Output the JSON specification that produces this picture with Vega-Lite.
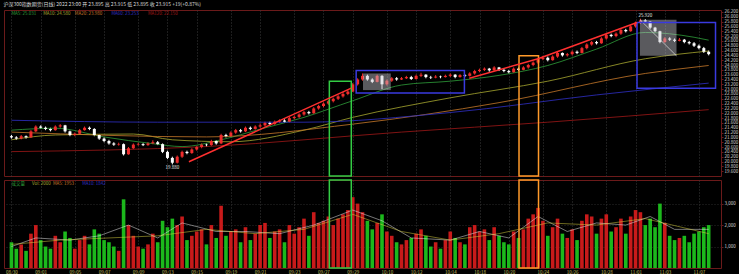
{
"$schema": "https://vega.github.io/schema/vega-lite/v6.json",
"background": "#000000",
"padding": {"left": 3, "top": 2, "right": 0, "bottom": 0},
"spacing": 0,
"config": {"font": "Noto Sans CJK SC", "view": {"stroke": "#6b1a1a", "strokeWidth": 1}, "concat": {"spacing": 0}, "axis": {"labelOverlap": false, "labelBound": false}},
"title": {"text": "沪深300指数期货(日线)   2022 23:00   开 23.895   高 23.915   低 23.895   收 23.915   +19(+0.87%)", "fontSize": 5, "color": "#dddddd", "anchor": "start", "offset": 1, "fontWeight": "normal", "baseline": "top"},
"datasets": {
"k": [
{"i":0,"o":21.05,"c":21.00,"h":21.10,"l":20.95,"v":1200},
{"i":1,"o":21.00,"c":20.95,"h":21.05,"l":20.90,"v":900},
{"i":2,"o":20.95,"c":21.05,"h":21.10,"l":20.92,"v":1100},
{"i":3,"o":21.05,"c":21.00,"h":21.08,"l":20.95,"v":800},
{"i":4,"o":21.00,"c":21.25,"h":21.30,"l":20.98,"v":1600},
{"i":5,"o":21.25,"c":21.45,"h":21.50,"l":21.22,"v":2000},
{"i":6,"o":21.45,"c":21.40,"h":21.50,"l":21.35,"v":1300},
{"i":7,"o":21.40,"c":21.35,"h":21.45,"l":21.30,"v":1000},
{"i":8,"o":21.35,"c":21.30,"h":21.40,"l":21.25,"v":900},
{"i":9,"o":21.30,"c":21.45,"h":21.50,"l":21.28,"v":1500},
{"i":10,"o":21.45,"c":21.50,"h":21.55,"l":21.40,"v":1200},
{"i":11,"o":21.50,"c":21.25,"h":21.52,"l":21.20,"v":1700},
{"i":12,"o":21.25,"c":21.10,"h":21.28,"l":21.05,"v":1400},
{"i":13,"o":21.10,"c":21.15,"h":21.20,"l":21.05,"v":900},
{"i":14,"o":21.15,"c":21.30,"h":21.35,"l":21.12,"v":1300},
{"i":15,"o":21.30,"c":21.40,"h":21.45,"l":21.28,"v":1500},
{"i":16,"o":21.40,"c":21.35,"h":21.45,"l":21.30,"v":1100},
{"i":17,"o":21.35,"c":21.10,"h":21.38,"l":21.05,"v":1800},
{"i":18,"o":21.10,"c":20.95,"h":21.12,"l":20.90,"v":1600},
{"i":19,"o":20.95,"c":20.85,"h":21.00,"l":20.80,"v":1300},
{"i":20,"o":20.85,"c":20.75,"h":20.90,"l":20.70,"v":1200},
{"i":21,"o":20.75,"c":20.70,"h":20.80,"l":20.65,"v":1000},
{"i":22,"o":20.70,"c":20.72,"h":20.78,"l":20.66,"v":800},
{"i":23,"o":20.72,"c":20.30,"h":20.75,"l":20.25,"v":3200},
{"i":24,"o":20.30,"c":20.55,"h":20.60,"l":20.28,"v":2000},
{"i":25,"o":20.55,"c":20.70,"h":20.75,"l":20.52,"v":1500},
{"i":26,"o":20.70,"c":20.72,"h":20.78,"l":20.66,"v":1000},
{"i":27,"o":20.72,"c":20.68,"h":20.76,"l":20.64,"v":900},
{"i":28,"o":20.68,"c":20.75,"h":20.80,"l":20.65,"v":1100},
{"i":29,"o":20.75,"c":20.80,"h":20.88,"l":20.72,"v":1600},
{"i":30,"o":20.80,"c":20.72,"h":20.85,"l":20.68,"v":1200},
{"i":31,"o":20.72,"c":20.40,"h":20.75,"l":20.35,"v":2200},
{"i":32,"o":20.40,"c":20.15,"h":20.45,"l":20.10,"v":1900},
{"i":33,"o":20.15,"c":19.95,"h":20.20,"l":19.88,"v":2300},
{"i":34,"o":19.95,"c":20.20,"h":20.25,"l":19.92,"v":2000},
{"i":35,"o":20.20,"c":20.40,"h":20.45,"l":20.15,"v":2400},
{"i":36,"o":20.40,"c":20.35,"h":20.45,"l":20.30,"v":1300},
{"i":37,"o":20.35,"c":20.50,"h":20.55,"l":20.32,"v":1500},
{"i":38,"o":20.50,"c":20.60,"h":20.65,"l":20.45,"v":1700},
{"i":39,"o":20.60,"c":20.70,"h":20.75,"l":20.55,"v":1800},
{"i":40,"o":20.70,"c":20.68,"h":20.75,"l":20.62,"v":1100},
{"i":41,"o":20.68,"c":20.85,"h":20.90,"l":20.65,"v":2000},
{"i":42,"o":20.85,"c":20.75,"h":20.88,"l":20.70,"v":1400},
{"i":43,"o":20.75,"c":21.10,"h":21.15,"l":20.72,"v":2900},
{"i":44,"o":21.10,"c":21.05,"h":21.15,"l":21.00,"v":1500},
{"i":45,"o":21.05,"c":21.20,"h":21.25,"l":21.02,"v":1700},
{"i":46,"o":21.20,"c":21.30,"h":21.35,"l":21.15,"v":1800},
{"i":47,"o":21.30,"c":21.25,"h":21.35,"l":21.20,"v":1200},
{"i":48,"o":21.25,"c":21.40,"h":21.45,"l":21.22,"v":1900},
{"i":49,"o":21.40,"c":21.35,"h":21.45,"l":21.30,"v":1300},
{"i":50,"o":21.35,"c":21.45,"h":21.50,"l":21.32,"v":1600},
{"i":51,"o":21.45,"c":21.50,"h":21.58,"l":21.40,"v":2000},
{"i":52,"o":21.50,"c":21.60,"h":21.65,"l":21.45,"v":2100},
{"i":53,"o":21.60,"c":21.55,"h":21.65,"l":21.50,"v":1400},
{"i":54,"o":21.55,"c":21.65,"h":21.70,"l":21.52,"v":1700},
{"i":55,"o":21.65,"c":21.70,"h":21.75,"l":21.60,"v":1800},
{"i":56,"o":21.70,"c":21.65,"h":21.75,"l":21.60,"v":1200},
{"i":57,"o":21.65,"c":21.80,"h":21.85,"l":21.62,"v":2000},
{"i":58,"o":21.80,"c":21.85,"h":21.90,"l":21.75,"v":1600},
{"i":59,"o":21.85,"c":21.95,"h":22.00,"l":21.80,"v":1900},
{"i":60,"o":21.95,"c":22.05,"h":22.10,"l":21.90,"v":2300},
{"i":61,"o":22.05,"c":22.00,"h":22.10,"l":21.95,"v":1500},
{"i":62,"o":22.00,"c":22.20,"h":22.25,"l":21.98,"v":2600},
{"i":63,"o":22.20,"c":22.30,"h":22.35,"l":22.15,"v":2100},
{"i":64,"o":22.30,"c":22.40,"h":22.45,"l":22.25,"v":2200},
{"i":65,"o":22.40,"c":22.50,"h":22.55,"l":22.35,"v":2400},
{"i":66,"o":22.50,"c":22.60,"h":22.65,"l":22.45,"v":2000},
{"i":67,"o":22.60,"c":22.70,"h":22.75,"l":22.55,"v":2300},
{"i":68,"o":22.70,"c":22.80,"h":22.88,"l":22.65,"v":2500},
{"i":69,"o":22.80,"c":22.90,"h":22.98,"l":22.75,"v":2700},
{"i":70,"o":22.90,"c":23.20,"h":23.25,"l":22.88,"v":3300},
{"i":71,"o":23.20,"c":23.40,"h":23.45,"l":23.15,"v":3000},
{"i":72,"o":23.40,"c":23.55,"h":23.65,"l":23.35,"v":2600},
{"i":73,"o":23.55,"c":23.40,"h":23.60,"l":23.35,"v":2200},
{"i":74,"o":23.40,"c":23.30,"h":23.45,"l":23.25,"v":1800},
{"i":75,"o":23.30,"c":23.55,"h":23.60,"l":23.28,"v":2100},
{"i":76,"o":23.55,"c":23.20,"h":23.58,"l":23.00,"v":2500},
{"i":77,"o":23.20,"c":23.35,"h":23.40,"l":23.15,"v":1700},
{"i":78,"o":23.35,"c":23.45,"h":23.50,"l":23.30,"v":1500},
{"i":79,"o":23.45,"c":23.40,"h":23.50,"l":23.35,"v":1200},
{"i":80,"o":23.40,"c":23.45,"h":23.50,"l":23.38,"v":1100},
{"i":81,"o":23.45,"c":23.50,"h":23.55,"l":23.42,"v":1300},
{"i":82,"o":23.50,"c":23.42,"h":23.55,"l":23.38,"v":1400},
{"i":83,"o":23.42,"c":23.55,"h":23.60,"l":23.40,"v":1600},
{"i":84,"o":23.55,"c":23.60,"h":23.68,"l":23.50,"v":1800},
{"i":85,"o":23.60,"c":23.50,"h":23.62,"l":23.45,"v":1500},
{"i":86,"o":23.50,"c":23.48,"h":23.55,"l":23.42,"v":1000},
{"i":87,"o":23.48,"c":23.52,"h":23.58,"l":23.45,"v":1200},
{"i":88,"o":23.52,"c":23.50,"h":23.56,"l":23.45,"v":900},
{"i":89,"o":23.50,"c":23.55,"h":23.60,"l":23.48,"v":1300},
{"i":90,"o":23.55,"c":23.60,"h":23.65,"l":23.50,"v":1700},
{"i":91,"o":23.60,"c":23.50,"h":23.62,"l":23.45,"v":1400},
{"i":92,"o":23.50,"c":23.58,"h":23.62,"l":23.48,"v":1200},
{"i":93,"o":23.58,"c":23.55,"h":23.62,"l":23.50,"v":1100},
{"i":94,"o":23.55,"c":23.65,"h":23.70,"l":23.52,"v":1900},
{"i":95,"o":23.65,"c":23.75,"h":23.80,"l":23.60,"v":2000},
{"i":96,"o":23.75,"c":23.80,"h":23.85,"l":23.70,"v":1700},
{"i":97,"o":23.80,"c":23.85,"h":23.90,"l":23.75,"v":1800},
{"i":98,"o":23.85,"c":23.78,"h":23.88,"l":23.72,"v":1300},
{"i":99,"o":23.78,"c":23.90,"h":23.95,"l":23.75,"v":1900},
{"i":100,"o":23.90,"c":23.80,"h":23.92,"l":23.75,"v":1500},
{"i":101,"o":23.80,"c":23.75,"h":23.85,"l":23.70,"v":1200},
{"i":102,"o":23.75,"c":23.70,"h":23.80,"l":23.65,"v":1100},
{"i":103,"o":23.70,"c":23.85,"h":23.90,"l":23.68,"v":1700},
{"i":104,"o":23.85,"c":23.80,"h":23.90,"l":23.75,"v":1400},
{"i":105,"o":23.80,"c":23.90,"h":23.95,"l":23.78,"v":1800},
{"i":106,"o":23.90,"c":24.00,"h":24.05,"l":23.85,"v":2300},
{"i":107,"o":24.00,"c":24.10,"h":24.15,"l":23.95,"v":2500},
{"i":108,"o":24.10,"c":24.25,"h":24.30,"l":24.05,"v":2800},
{"i":109,"o":24.25,"c":24.30,"h":24.38,"l":24.20,"v":2200},
{"i":110,"o":24.30,"c":24.20,"h":24.35,"l":24.15,"v":1500},
{"i":111,"o":24.20,"c":24.35,"h":24.40,"l":24.18,"v":1900},
{"i":112,"o":24.35,"c":24.50,"h":24.55,"l":24.30,"v":2300},
{"i":113,"o":24.50,"c":24.40,"h":24.52,"l":24.35,"v":1600},
{"i":114,"o":24.40,"c":24.45,"h":24.50,"l":24.35,"v":1400},
{"i":115,"o":24.45,"c":24.55,"h":24.60,"l":24.40,"v":1800},
{"i":116,"o":24.55,"c":24.50,"h":24.60,"l":24.45,"v":1300},
{"i":117,"o":24.50,"c":24.70,"h":24.75,"l":24.48,"v":2200},
{"i":118,"o":24.70,"c":24.85,"h":24.90,"l":24.65,"v":2500},
{"i":119,"o":24.85,"c":24.95,"h":25.00,"l":24.80,"v":2400},
{"i":120,"o":24.95,"c":24.90,"h":25.00,"l":24.85,"v":1600},
{"i":121,"o":24.90,"c":25.10,"h":25.15,"l":24.88,"v":2300},
{"i":122,"o":25.10,"c":25.25,"h":25.30,"l":25.05,"v":2500},
{"i":123,"o":25.25,"c":25.20,"h":25.30,"l":25.15,"v":1700},
{"i":124,"o":25.20,"c":25.30,"h":25.35,"l":25.15,"v":1900},
{"i":125,"o":25.30,"c":25.45,"h":25.50,"l":25.25,"v":2300},
{"i":126,"o":25.45,"c":25.40,"h":25.50,"l":25.35,"v":1600},
{"i":127,"o":25.40,"c":25.60,"h":25.65,"l":25.38,"v":2400},
{"i":128,"o":25.60,"c":25.75,"h":25.80,"l":25.55,"v":2700},
{"i":129,"o":25.75,"c":25.85,"h":25.92,"l":25.70,"v":2600},
{"i":130,"o":25.85,"c":25.80,"h":25.90,"l":25.75,"v":2000},
{"i":131,"o":25.80,"c":25.55,"h":25.82,"l":25.50,"v":2300},
{"i":132,"o":25.55,"c":25.40,"h":25.58,"l":25.35,"v":1900},
{"i":133,"o":25.40,"c":24.95,"h":25.42,"l":24.90,"v":3000},
{"i":134,"o":24.95,"c":25.10,"h":25.15,"l":24.92,"v":2100},
{"i":135,"o":25.10,"c":25.05,"h":25.15,"l":25.00,"v":1500},
{"i":136,"o":25.05,"c":25.00,"h":25.10,"l":24.95,"v":1300},
{"i":137,"o":25.00,"c":25.05,"h":25.12,"l":24.98,"v":1400},
{"i":138,"o":25.05,"c":24.95,"h":25.08,"l":24.90,"v":1500},
{"i":139,"o":24.95,"c":24.90,"h":25.00,"l":24.85,"v":1200},
{"i":140,"o":24.90,"c":24.80,"h":24.95,"l":24.75,"v":1600},
{"i":141,"o":24.80,"c":24.70,"h":24.85,"l":24.65,"v":1700},
{"i":142,"o":24.70,"c":24.55,"h":24.75,"l":24.50,"v":1900},
{"i":143,"o":24.55,"c":24.45,"h":24.60,"l":24.40,"v":2000}
],
"ma": [
{"k":"MA5","i":0,"p":21.30},{"k":"MA5","i":9,"p":21.38},{"k":"MA5","i":19,"p":21.02},{"k":"MA5","i":29,"p":20.74},{"k":"MA5","i":35,"p":20.62},{"k":"MA5","i":43,"p":20.90},{"k":"MA5","i":51,"p":21.34},{"k":"MA5","i":60,"p":21.83},{"k":"MA5","i":70,"p":22.52},{"k":"MA5","i":80,"p":23.17},{"k":"MA5","i":90,"p":23.33},{"k":"MA5","i":100,"p":23.57},{"k":"MA5","i":110,"p":23.98},{"k":"MA5","i":120,"p":24.66},{"k":"MA5","i":130,"p":25.35},{"k":"MA5","i":140,"p":25.15},{"k":"MA5","i":143,"p":25.03},
{"k":"MA10","i":0,"p":20.90},{"k":"MA10","i":9,"p":21.10},{"k":"MA10","i":25,"p":21.14},{"k":"MA10","i":33,"p":20.90},{"k":"MA10","i":45,"p":20.82},{"k":"MA10","i":60,"p":21.30},{"k":"MA10","i":70,"p":21.83},{"k":"MA10","i":90,"p":22.64},{"k":"MA10","i":110,"p":23.33},{"k":"MA10","i":130,"p":24.26},{"k":"MA10","i":143,"p":24.58},
{"k":"MA20","i":0,"p":21.22},{"k":"MA20","i":40,"p":21.02},{"k":"MA20","i":70,"p":21.55},{"k":"MA20","i":100,"p":22.44},{"k":"MA20","i":130,"p":23.65},{"k":"MA20","i":143,"p":23.98},
{"k":"MA60","i":0,"p":21.71},{"k":"MA60","i":30,"p":21.63},{"k":"MA60","i":60,"p":21.63},{"k":"MA60","i":90,"p":22.03},{"k":"MA60","i":120,"p":22.76},{"k":"MA60","i":143,"p":23.25},
{"k":"MA120","i":0,"p":20.41},{"k":"MA120","i":40,"p":20.62},{"k":"MA120","i":80,"p":21.22},{"k":"MA120","i":110,"p":21.63},{"k":"MA120","i":143,"p":22.15}
],
"malbl": [
{"k":"MA5","i":0,"t":"MA5: 25.031"},
{"k":"MA10","i":6.5,"t":"MA10: 24.580"},
{"k":"MA20","i":13,"t":"MA20: 23.980"},
{"k":"MA60","i":20.5,"t":"MA60: 23.253"},
{"k":"MA120","i":28,"t":"MA120: 22.150"}
],
"trend": [
{"s":"a","i":36.4,"p":19.99},{"s":"a","i":69.7,"p":23.04},
{"s":"b","i":93.9,"p":23.45},{"s":"b","i":108,"p":24.26},
{"s":"c","i":108,"p":24.26},{"s":"c","i":128.3,"p":25.76}
],
"diag": [
{"i":128.9,"p":25.88},{"i":136.4,"p":24.38}
],
"boxes": [
{"b":"绿框","x1":65.2,"x2":69.7,"y1":23.33,"y2":19.40},
{"b":"橙框","x1":104.1,"x2":108.1,"y1":24.38,"y2":19.40},
{"b":"蓝框","x1":70.7,"x2":92.9,"y1":23.77,"y2":22.84},
{"b":"蓝框","x1":128.3,"x2":144.4,"y1":25.76,"y2":23.04}
],
"shade": [
{"x1":72.1,"x2":77.8,"y1":23.65,"y2":22.96},
{"x1":128.9,"x2":136.4,"y1":25.88,"y2":24.38}
],
"vboxes": [
{"b":"绿框","x1":65.2,"x2":69.7},
{"b":"橙框","x1":104.1,"x2":108.1}
],
"pl": [
{"i":33,"p":19.74,"t":"19.880"},
{"i":130,"p":26.03,"t":"25.920"}
],
"vlbl": [
{"i":0,"t":"成交量","k":"a"},
{"i":4.2,"t":"Vol: 2000","k":"b"},
{"i":8.5,"t":"MA5: 1953","k":"c"},
{"i":14.5,"t":"MA10: 1842","k":"d"}
],
"vma5": [
{"i":0,"v":1000},{"i":5,"v":1400},{"i":12,"v":1300},{"i":18,"v":1500},{"i":24,"v":2000},{"i":30,"v":1400},{"i":35,"v":2100},{"i":42,"v":1700},{"i":48,"v":1700},{"i":55,"v":1600},{"i":62,"v":2000},{"i":70,"v":2700},{"i":76,"v":2200},{"i":82,"v":1400},{"i":90,"v":1300},{"i":96,"v":1700},{"i":102,"v":1400},{"i":108,"v":2400},{"i":114,"v":1700},{"i":120,"v":2100},{"i":126,"v":2000},{"i":131,"v":2400},{"i":136,"v":1800},{"i":143,"v":1800}
],
"vma10": [
{"i":0,"v":1100},{"i":10,"v":1300},{"i":20,"v":1400},{"i":30,"v":1500},{"i":40,"v":1800},{"i":50,"v":1600},{"i":60,"v":1800},{"i":70,"v":2500},{"i":80,"v":1700},{"i":90,"v":1300},{"i":100,"v":1600},{"i":110,"v":2100},{"i":120,"v":2000},{"i":130,"v":2300},{"i":143,"v":1600}
]
},
"vconcat": [
{
"width": 717, "height": 166,
"encoding": {
  "x": {"type": "quantitative", "title": null, "scale": {"domain": [-0.5, 144.5], "nice": false, "zero": false},
        "axis": {"orient": "bottom", "values": [0,6,13,19,26,32,38,45,51,58,64,70,77,83,90,96,102,109,115,122,128,134,141], "labels": false, "ticks": false, "domain": false, "grid": true, "gridColor": "#3a3a3a", "gridDash": [1,2], "gridWidth": 1}},
  "y": {"type": "quantitative", "title": null, "scale": {"domain": [19.40, 26.28], "nice": false, "zero": false},
        "axis": {"orient": "right", "values": [19.6,19.8,20.0,20.2,20.4,20.6,20.8,21.0,21.2,21.4,21.6,21.8,22.0,22.2,22.4,22.6,22.8,23.0,23.2,23.4,23.6,23.8,24.0,24.2,24.4,24.6,24.8,25.0,25.2,25.4,25.6,25.8,26.0,26.2], "format": ".3f", "labelFontSize": 4.5, "labelColor": "#d8d8d8", "labelOverlap": false, "tickSize": 2, "tickColor": "#6b1a1a", "labelPadding": 1, "domain": false, "grid": false}}
},
"layer": [
{"data": {"name": "k"}, "mark": {"type": "rule", "strokeWidth": 1},
 "encoding": {
  "x": {"field": "i"},
  "y": {"field": "l"},
  "y2": {"field": "h"},
  "color": {"condition": {"test": "datum.c >= datum.o", "value": "#ee2c2c"}, "value": "#ffffff"}
 }},
{"data": {"name": "ma"}, "mark": {"type": "line", "strokeWidth": 0.8, "interpolate": "monotone"},
 "encoding": {
  "x": {"field": "i"},
  "y": {"field": "p"},
  "detail": {"field": "k"},
  "color": {"field": "k", "type": "nominal", "legend": null, "scale": {"domain": ["MA5","MA10","MA20","MA60","MA120"], "range": ["#2e9e3a","#a8a830","#c8782a","#3030c8","#a01818"]}}
 }},
{"data": {"name": "k"}, "mark": {"type": "bar", "size": 3},
 "encoding": {
  "x": {"field": "i"},
  "y": {"field": "o"},
  "y2": {"field": "c"},
  "color": {"condition": {"test": "datum.c >= datum.o", "value": "#ee2c2c"}, "value": "#ffffff"}
 }},
{"data": {"name": "shade"}, "mark": {"type": "rect", "fill": "#c8c8d0", "opacity": 0.45},
 "encoding": {
  "x": {"field": "x1"}, "x2": {"field": "x2"},
  "y": {"field": "y1"}, "y2": {"field": "y2"}
 }},
{"data": {"name": "diag"}, "mark": {"type": "line", "color": "#e0e0e0", "strokeWidth": 0.7},
 "encoding": {
  "x": {"field": "i"},
  "y": {"field": "p"}
 }},
{"data": {"name": "boxes"}, "mark": {"type": "rect", "fill": null, "fillOpacity": 0, "strokeWidth": 1.5},
 "encoding": {
  "x": {"field": "x1"}, "x2": {"field": "x2"},
  "y": {"field": "y1"}, "y2": {"field": "y2"},
  "stroke": {"field": "b", "type": "nominal", "legend": null, "scale": {"domain": ["绿框","橙框","蓝框"], "range": ["#33cc44","#ff9a2a","#3a3ae0"]}}
 }},
{"data": {"name": "trend"}, "mark": {"type": "line", "color": "#ff3030", "strokeWidth": 1.5},
 "encoding": {
  "x": {"field": "i"},
  "y": {"field": "p"},
  "detail": {"field": "s"}
 }},
{"data": {"name": "pl"}, "mark": {"type": "text", "fontSize": 4.5, "color": "#e8e8e8"},
 "encoding": {
  "x": {"field": "i"},
  "y": {"field": "p"},
  "text": {"field": "t"}
 }},
{"data": {"name": "malbl"}, "mark": {"type": "text", "fontSize": 4.5, "align": "left", "baseline": "top", "dy": 1},
 "encoding": {
  "x": {"field": "i"},
  "y": {"datum": 26.28},
  "text": {"field": "t"},
  "color": {"field": "k", "type": "nominal", "legend": null}
 }}
]
},
{
"width": 717, "height": 88,
"encoding": {
  "x": {"type": "quantitative", "title": null, "scale": {"domain": [-0.5, 144.5], "nice": false, "zero": false},
        "axis": {"orient": "bottom", "values": [0,6,13,19,26,32,38,45,51,58,64,70,77,83,90,96,102,109,115,122,128,134,141],
                 "labelExpr": "['08/30','09/01','09/05','09/07','09/09','09/13','09/15','09/19','09/21','09/23','09/27','09/29','10/10','10/12','10/14','10/18','10/20','10/24','10/26','10/28','11/01','11/03','11/07'][indexof([0,6,13,19,26,32,38,45,51,58,64,70,77,83,90,96,102,109,115,122,128,134,141], datum.value)]",
                 "labelFontSize": 4.5, "labelColor": "#c8c060", "labelPadding": 1, "ticks": false, "domain": false, "grid": true, "gridColor": "#3a3a3a", "gridDash": [1,2], "labelOverlap": false}},
  "y": {"type": "quantitative", "title": null, "scale": {"domain": [0, 4100], "nice": false},
        "axis": {"orient": "right", "values": [1000, 2000, 3000], "labelFontSize": 4.5, "labelColor": "#d8d8d8", "tickSize": 2, "tickColor": "#6b1a1a", "labelPadding": 1, "domain": false, "grid": true, "gridColor": "#2a2a2a", "gridDash": [1,2]}}
},
"layer": [
{"data": {"name": "k"}, "mark": {"type": "bar", "size": 3.6},
 "encoding": {
  "x": {"field": "i"},
  "y": {"field": "v"},
  "color": {"condition": {"test": "datum.c >= datum.o", "value": "#c81a1a"}, "value": "#1cb81c"}
 }},
{"data": {"name": "vma5"}, "mark": {"type": "line", "color": "#e8e8e8", "strokeWidth": 0.6, "opacity": 0.85},
 "encoding": {"x": {"field": "i"}, "y": {"field": "v"}}},
{"data": {"name": "vma10"}, "mark": {"type": "line", "color": "#d8d040", "strokeWidth": 0.6, "opacity": 0.85},
 "encoding": {"x": {"field": "i"}, "y": {"field": "v"}}},
{"data": {"name": "vboxes"}, "mark": {"type": "rect", "fill": null, "fillOpacity": 0, "strokeWidth": 1.5},
 "encoding": {
  "x": {"field": "x1"}, "x2": {"field": "x2"},
  "y": {"datum": 0}, "y2": {"datum": 4100},
  "stroke": {"field": "b", "type": "nominal", "legend": null, "scale": {"domain": ["绿框","橙框"], "range": ["#33cc44","#ff9a2a"]}}
 }},
{"data": {"name": "vlbl"}, "mark": {"type": "text", "fontSize": 4.5, "align": "left", "baseline": "top", "dy": 1},
 "encoding": {
  "x": {"field": "i"},
  "y": {"datum": 4100},
  "text": {"field": "t"},
  "color": {"field": "k", "type": "nominal", "legend": null, "scale": {"domain": ["a","b","c","d"], "range": ["#e0e0e0","#2ec02e","#e03030","#d8d040"]}}
 }}
]
}
]
}
